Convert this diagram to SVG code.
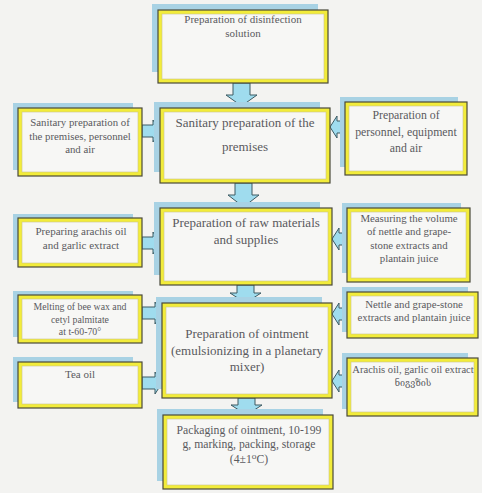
<svg xmlns="http://www.w3.org/2000/svg" width="482" height="493" viewBox="0 0 482 493">
<style>
.bg{fill:#f3f3f1}
.sh{fill:#a8d2e4}
.bx{fill:#f2ec3a;stroke:#4a4a3a;stroke-width:1.2}
.in{fill:#f7f7f5;stroke:#c9c48a;stroke-width:0.6}
.ar{fill:#9fdcee;stroke:#3d5a62;stroke-width:1}
text{font-family:"Liberation Serif","DejaVu Serif",serif;fill:#5a5a5e;text-anchor:middle}
.c{font-size:13px}
.s{font-size:10.8px}
.m{font-size:11px}
</style>
<rect class="bg" x="0" y="0" width="482" height="493"/>

<g id="connectors">
<path class="ar" d="M233,83 H250 V95 H257 L241.5,106 L226,95 H233 Z"/>
<path class="ar" d="M235,183 H252 V195 H259 L243.5,207 L228,195 H235 Z"/>
<path class="ar" d="M237,285 H254 V293 H261 L245.5,303 L230,293 H237 Z"/>
<path class="ar" d="M238,398 H255 V405 H262 L246.5,415 L231,405 H238 Z"/>
<path class="ar" d="M142,125 H153 V120 L160,131 L153,142 V137 H142 Z"/>
<path class="ar" d="M142,237 H153 V232 L160,243 L153,254 V249 H142 Z"/>
<path class="ar" d="M142,307 H155 V302 L162,313 L155,324 V319 H142 Z"/>
<path class="ar" d="M142,377 H155 V372 L162,383 L155,394 V389 H142 Z"/>
<path class="ar" d="M345,121 H337 V116 L330,127 L337,138 V133 H345 Z"/>
<path class="ar" d="M347,233 H339 V228 L332,239 L339,250 V245 H347 Z"/>
<path class="ar" d="M347,308 H339 V303 L332,314 L339,325 V320 H347 Z"/>
<path class="ar" d="M347,375 H339 V370 L332,381 L339,392 V387 H347 Z"/>
</g>

<g id="n-disinfection">
<rect class="sh" x="152" y="4" width="166" height="68"/>
<rect class="bx" x="158" y="10" width="170" height="73"/>
<rect class="in" x="162" y="14" width="162" height="65"/>
<text class="m" x="243" y="23">Preparation of disinfection</text>
<text class="m" x="243" y="37">solution</text>
</g>

<g id="n-sanitary">
<rect class="sh" x="154" y="102" width="166" height="70"/>
<rect class="bx" x="160" y="108" width="170" height="75"/>
<rect class="in" x="164" y="112" width="162" height="67"/>
<text class="c" x="245" y="127">Sanitary preparation of the</text>
<text class="c" x="245" y="151">premises</text>
</g>

<g id="n-left1">
<rect class="sh" x="13" y="103" width="120" height="67"/>
<rect class="bx" x="18" y="108" width="124" height="68"/>
<rect class="in" x="22" y="112" width="116" height="60"/>
<text class="s" x="80" y="126">Sanitary preparation of</text>
<text class="s" x="80" y="140">the premises, personnel</text>
<text class="s" x="80" y="153">and air</text>
</g>

<g id="n-right1">
<rect class="sh" x="340" y="97" width="118" height="70"/>
<rect class="bx" x="345" y="102" width="122" height="73"/>
<rect class="in" x="349" y="106" width="114" height="65"/>
<text x="406" y="119" style="font-size:11.8px">Preparation of</text>
<text x="406" y="136" style="font-size:11.8px">personnel, equipment</text>
<text x="406" y="152" style="font-size:11.8px">and air</text>
</g>

<g id="n-raw">
<rect class="sh" x="154" y="202" width="166" height="73"/>
<rect class="bx" x="160" y="208" width="172" height="77"/>
<rect class="in" x="164" y="212" width="164" height="69"/>
<text class="c" x="246" y="227">Preparation of raw materials</text>
<text class="c" x="246" y="244">and supplies</text>
</g>

<g id="n-left2">
<rect class="sh" x="13" y="214" width="120" height="46"/>
<rect class="bx" x="18" y="218" width="124" height="49"/>
<rect class="in" x="22" y="222" width="116" height="41"/>
<text class="m" x="81" y="235">Preparing arachis oil</text>
<text class="m" x="81" y="249">and garlic extract</text>
</g>

<g id="n-right2">
<rect class="sh" x="342" y="203" width="119" height="70"/>
<rect class="bx" x="347" y="208" width="123" height="74"/>
<rect class="in" x="351" y="212" width="115" height="66"/>
<text class="s" x="409" y="222">Measuring the volume</text>
<text class="s" x="409" y="235">of nettle and grape-</text>
<text class="s" x="409" y="249">stone extracts and</text>
<text class="s" x="409" y="262">plantain juice</text>
</g>

<g id="n-ointment">
<rect class="sh" x="156" y="297" width="166" height="92"/>
<rect class="bx" x="162" y="303" width="170" height="95"/>
<rect class="in" x="166" y="307" width="162" height="87"/>
<text class="c" x="247" y="338">Preparation of ointment</text>
<text class="c" x="247" y="355">(emulsionizing in a planetary</text>
<text class="c" x="247" y="371">mixer)</text>
</g>

<g id="n-left3">
<rect class="sh" x="13" y="291" width="120" height="46"/>
<rect class="bx" x="18" y="295" width="124" height="48"/>
<rect class="in" x="22" y="299" width="116" height="40"/>
<text x="80" y="310" style="font-size:9.8px">Melting of bee wax and</text>
<text x="80" y="323" style="font-size:9.8px">cetyl palmitate</text>
<text x="80" y="335" style="font-size:9.8px">at t-60-70°</text>
</g>

<g id="n-left4">
<rect class="sh" x="13" y="357" width="120" height="45"/>
<rect class="bx" x="18" y="362" width="124" height="46"/>
<rect class="in" x="22" y="366" width="116" height="38"/>
<text class="m" x="80" y="378">Tea oil</text>
</g>

<g id="n-right3">
<rect class="sh" x="342" y="287" width="126" height="45"/>
<rect class="bx" x="347" y="292" width="131" height="46"/>
<rect class="in" x="351" y="296" width="123" height="38"/>
<text class="s" x="414" y="308">Nettle and grape-stone</text>
<text class="s" x="414" y="321">extracts and plantain juice</text>
</g>

<g id="n-right4">
<rect class="sh" x="342" y="353" width="126" height="56"/>
<rect class="bx" x="347" y="358" width="131" height="58"/>
<rect class="in" x="351" y="362" width="123" height="50"/>
<text x="413" y="373" style="font-size:10.6px">Arachis oil, garlic oil extract</text>
<text x="413" y="386" style="font-size:9px">ნიგვზის</text>
</g>

<g id="n-packaging">
<rect class="sh" x="157" y="409" width="166" height="72"/>
<rect class="bx" x="163" y="415" width="170" height="74"/>
<rect class="in" x="167" y="419" width="162" height="66"/>
<text x="249" y="434" style="font-size:11.7px">Packaging of ointment, 10-199</text>
<text x="249" y="448" style="font-size:11.7px">g, marking, packing, storage</text>
<text x="249" y="463" style="font-size:11.7px">(4±1⁰C)</text>
</g>
</svg>
